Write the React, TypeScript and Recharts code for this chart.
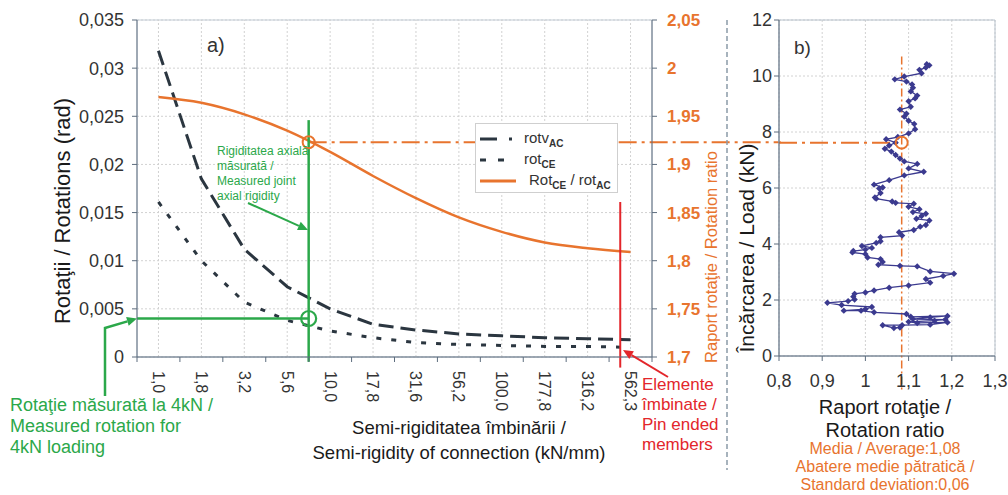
import React from 'react';
import {
  ComposedChart, Line, XAxis, YAxis, CartesianGrid, ReferenceLine, ReferenceDot,
  ReferenceArea, Legend, ScatterChart, Scatter,
} from 'recharts';

const FONT = '"Liberation Sans", Arial, Helvetica, sans-serif';
const ORANGE = '#E8742E';
const GREEN = '#2BA84A';
const RED = '#E3262B';
const SLATE = '#5d6d7e';
const DARK = '#2b3640';
const BLUE = '#3B3A8F';
const GRID = '#d2d2d2';

// ---- panel a data ----
const stiffnessLabels = ['1,0', '1,8', '3,2', '5,6', '10,0', '17,8', '31,6', '56,2', '100,0', '177,8', '316,2', '562,3'];
const rotvAC = [0.0318, 0.0185, 0.0112, 0.0073, 0.0050, 0.0034, 0.0028, 0.0024, 0.0022, 0.0020, 0.0019, 0.0018];
const rotCE = [0.0161, 0.0100, 0.0057, 0.0038, 0.0027, 0.0020, 0.0015, 0.0013, 0.0012, 0.0011, 0.0011, 0.0010];
const ratioCEAC = [1.970, 1.964, 1.952, 1.935, 1.913, 1.888, 1.865, 1.845, 1.830, 1.819, 1.813, 1.809];
const leftTicks = [0, 0.005, 0.01, 0.015, 0.02, 0.025, 0.03, 0.035];
const rightTicks = [1.7, 1.75, 1.8, 1.85, 1.9, 1.95, 2, 2.05];
const bandTicks = [0, 1, 2, 3, 4, 5, 6, 7, 8, 9, 10, 11, 12];

// annotation values
const measuredStiffnessPos = 4;
const measuredRatio = 1.923;
const measuredRotation = 0.004;
const pinnedPos = 11.26;

// ---- panel b data ----
const ratioB = [
  1.080, 1.066, 1.040, 1.085, 1.150, 1.190, 1.120, 1.100, 1.160, 1.185, 1.110, 1.150, 1.190, 1.105, 1.095,
  1.020, 0.990, 0.950, 1.000, 1.015, 0.945, 0.912, 0.960, 0.975, 0.972, 0.975, 1.000, 1.020, 1.055, 1.100,
  1.150, 1.140, 1.180, 1.205, 1.150, 1.120, 1.080, 1.030, 1.040, 1.035, 1.005, 1.000, 0.970, 0.972, 1.000,
  1.015, 0.992, 1.025, 1.035, 1.035, 1.085, 1.078, 1.112, 1.127, 1.140, 1.148, 1.118, 1.130, 1.140, 1.110,
  1.125, 1.100, 1.112, 1.070, 1.062, 1.025, 1.022, 1.035, 1.032, 1.040, 1.020, 1.055, 1.090, 1.135, 1.100,
  1.120, 1.090, 1.080, 1.070, 1.060, 1.045, 1.055, 1.070, 1.048, 1.075, 1.100, 1.115, 1.113, 1.100, 1.090,
  1.095, 1.080, 1.105, 1.100, 1.115, 1.120, 1.105, 1.110, 1.108, 1.095, 1.068, 1.090, 1.130, 1.125, 1.140,
  1.148, 1.142,
];
const loadB = [
  1.02, 1.00, 1.10, 1.10, 1.12, 1.20, 1.18, 1.22, 1.26, 1.30, 1.32, 1.38, 1.43, 1.40, 1.50,
  1.56, 1.62, 1.62, 1.67, 1.75, 1.82, 1.90, 1.96, 2.02, 2.12, 2.22, 2.27, 2.34, 2.44, 2.52,
  2.62, 2.75, 2.86, 2.94, 3.02, 3.20, 3.22, 3.26, 3.36, 3.46, 3.52, 3.64, 3.70, 3.75, 3.80,
  3.86, 3.93, 4.04, 4.10, 4.24, 4.30, 4.42, 4.50, 4.62, 4.68, 4.84, 4.90, 5.00, 5.08, 5.14,
  5.24, 5.33, 5.44, 5.47, 5.52, 5.62, 5.66, 5.82, 5.98, 6.02, 6.12, 6.28, 6.45, 6.58, 6.70,
  6.86, 6.95, 7.05, 7.18, 7.30, 7.40, 7.52, 7.62, 7.74, 7.82, 7.95, 8.10, 8.29, 8.40, 8.55,
  8.65, 8.80, 8.90, 9.10, 9.20, 9.30, 9.45, 9.58, 9.70, 9.80, 9.88, 9.98, 10.10, 10.22, 10.30,
  10.38, 10.42,
];
const loadTicks = [0, 2, 4, 6, 8, 10, 12];
const ratioTicks = [0.8, 0.9, 1, 1.1, 1.2, 1.3];
const ratioTickLabels = ['0,8', '0,9', '1', '1,1', '1,2', '1,3'];
const averageRatio = 1.084;
const averageLoad = 7.62;

// ---- layout constants ----
const H = 495;
const LEFT_W = 800;
const PLOT_L = 137;
const PLOT_R = 652;
const PLOT_T = 20;
const PLOT_B = 357;
const RIGHT_AXIS_W = 60;
const X_AXIS_H = 40;
const HALF_BAND = (PLOT_R - PLOT_L) / stiffnessLabels.length / 2;

const B_LEFT = 730;
const B_W = 278;

const comma = (v: number) => String(+v.toFixed(4)).replace('.', ',');

const seriesMeta = [
  { key: 'rotv', base: 'rotv', sub: 'AC', mid: '', sub2: '', color: DARK, dash: '17 12 3 100', width: 3 },
  { key: 'rotce', base: 'rot', sub: 'CE', mid: '', sub2: '', color: DARK, dash: '6 12 6 100', width: 3 },
  { key: 'ratio', base: 'Rot', sub: 'CE', mid: ' / rot', sub2: 'AC', color: ORANGE, dash: '', width: 3 },
];

const XTick = (props: any) => {
  const { x, y, payload } = props;
  const idx = payload?.value;
  const label = stiffnessLabels[idx];
  if (label === undefined) return <g />;
  return (
    <text
      transform={`translate(${x + HALF_BAND},${y + 7}) rotate(90)`}
      textAnchor="start"
      dy="0.35em"
      fontSize={16}
      fill="#333"
      fontFamily={FONT}
    >
      {label}
    </text>
  );
};

const LegendBox = (props: any) => {
  const payload: any[] = props.payload || [];
  const colorOf = (k: string, fallback: string) => {
    const it = payload.find((p) => p.dataKey === k);
    return it?.color || fallback;
  };
  return (
    <div
      style={{
        width: 143, height: 70, boxSizing: 'border-box', border: '1px solid #cfcfcf',
        background: '#fff', paddingTop: 4, fontFamily: FONT,
      }}
    >
      {seriesMeta.map((m) => (
        <div key={m.key} style={{ display: 'flex', alignItems: 'center', height: 21 }}>
          <svg width={46} height={20} style={{ flex: 'none' }}>
            <line
              x1={4} x2={40} y1={10} y2={10}
              stroke={colorOf(m.key, m.color)}
              strokeWidth={m.width}
              strokeDasharray={m.dash || undefined}
            />
          </svg>
          <span style={{ fontSize: 15, color: '#333', marginLeft: m.key === 'ratio' ? 7 : 2, whiteSpace: 'nowrap' }}>
            {m.base}
            <sub style={{ fontSize: 10, fontWeight: 700 }}>{m.sub}</sub>
            {m.mid}
            {m.sub2 ? <sub style={{ fontSize: 10, fontWeight: 700 }}>{m.sub2}</sub> : null}
          </span>
        </div>
      ))}
    </div>
  );
};

const Diamond = (p: any) => {
  const { cx, cy } = p;
  if (cx == null || cy == null) return <g />;
  const s = 3.2;
  return <polygon points={`${cx},${cy - s} ${cx + s},${cy} ${cx},${cy + s} ${cx - s},${cy}`} fill={BLUE} />;
};

const Arrow = ({ pts, color, w = 2.5, head = 9 }: { pts: number[][]; color: string; w?: number; head?: number }) => {
  const [x2, y2] = pts[pts.length - 1];
  const [x1, y1] = pts[pts.length - 2];
  const ang = Math.atan2(y2 - y1, x2 - x1);
  const bx = x2 - head * Math.cos(ang);
  const by = y2 - head * Math.sin(ang);
  const hw = head * 0.45;
  const p1 = [bx + hw * Math.sin(ang), by - hw * Math.cos(ang)];
  const p2 = [bx - hw * Math.sin(ang), by + hw * Math.cos(ang)];
  const linePts = [...pts.slice(0, -1), [bx, by]];
  return (
    <g>
      <polyline points={linePts.map((p) => p.join(',')).join(' ')} fill="none" stroke={color} strokeWidth={w} />
      <polygon points={`${x2},${y2} ${p1.join(',')} ${p2.join(',')}`} fill={color} />
    </g>
  );
};

export default function App() {
  const leftData = stiffnessLabels.map((c, i) => ({
    pos: i + 0.5,
    cat: c,
    rotv: rotvAC[i],
    rotce: rotCE[i],
    ratio: ratioCEAC[i],
  }));
  const bData = loadB.map((l, i) => ({ r: ratioB[i], load: l }));

  return (
    <div
      style={{
        position: 'absolute', left: 0, top: 0, width: 1008, height: H, background: '#fff',
        overflow: 'hidden', fontFamily: FONT,
      }}
    >
      <div style={{ position: 'absolute', left: 0, top: 0 }}>
        <ComposedChart
          width={LEFT_W}
          height={H}
          data={leftData}
          margin={{ top: PLOT_T, left: 0, right: LEFT_W - PLOT_R - RIGHT_AXIS_W, bottom: H - PLOT_B - X_AXIS_H }}
        >
          <CartesianGrid yAxisId="left" vertical={false} stroke={GRID} strokeDasharray="2 2" />
          {leftData.map((d) => (
            <ReferenceLine key={d.cat} x={d.pos} yAxisId="left" stroke={GRID} strokeDasharray="2 2" />
          ))}
          <ReferenceArea yAxisId="left" x1={0} x2={12} y1={0} y2={0.035} fill="none" stroke="#c3ccd5" />
          <XAxis
            type="number"
            dataKey="pos"
            domain={[0, 12]}
            ticks={bandTicks}
            interval={0}
            height={X_AXIS_H}
            stroke={SLATE}
            tickLine={{ stroke: SLATE }}
            tickSize={5}
            tick={<XTick />}
            allowDecimals
          />
          <YAxis
            yAxisId="left"
            domain={[0, 0.035]}
            ticks={leftTicks}
            width={PLOT_L}
            stroke={SLATE}
            tickSize={5}
            tickMargin={8}
            tickFormatter={comma}
            tick={{ fontSize: 18, fill: '#333', fontFamily: FONT }}
            interval={0}
          />
          <YAxis
            yAxisId="right"
            orientation="right"
            domain={[1.7, 2.05]}
            ticks={rightTicks}
            width={RIGHT_AXIS_W}
            stroke={SLATE}
            tickSize={5}
            tickMargin={10}
            tickFormatter={comma}
            tick={{ fontSize: 17, fill: ORANGE, fontWeight: 700, fontFamily: FONT }}
            interval={0}
          />
          <Line
            yAxisId="left" dataKey="rotv" name="rotvAC" type="linear" stroke={DARK}
            strokeWidth={3} strokeDasharray="15 7" dot={false} isAnimationActive={false}
          />
          <Line
            yAxisId="left" dataKey="rotce" name="rotCE" type="linear" stroke={DARK}
            strokeWidth={3} strokeDasharray="5 10" dot={false} isAnimationActive={false}
          />
          <Line
            yAxisId="right" dataKey="ratio" name="RotCE / rotAC" type="monotone" stroke={ORANGE}
            strokeWidth={2.5} dot={false} isAnimationActive={false}
          />
          <ReferenceLine
            yAxisId="right"
            segment={[{ x: measuredStiffnessPos, y: measuredRatio }, { x: 15, y: measuredRatio }]}
            ifOverflow="visible"
            stroke={ORANGE}
            strokeWidth={2}
            strokeDasharray="18 5 3 5"
          />
          <ReferenceLine
            yAxisId="left"
            segment={[{ x: measuredStiffnessPos, y: 0.0246 }, { x: measuredStiffnessPos, y: -0.0005 }]}
            ifOverflow="visible"
            stroke={GREEN}
            strokeWidth={2.5}
          />
          <ReferenceLine
            yAxisId="left"
            segment={[{ x: 0, y: measuredRotation }, { x: measuredStiffnessPos, y: measuredRotation }]}
            ifOverflow="visible"
            stroke={GREEN}
            strokeWidth={2.5}
          />
          <ReferenceLine
            yAxisId="left"
            segment={[{ x: pinnedPos, y: 0.0161 }, { x: pinnedPos, y: -0.0011 }]}
            ifOverflow="visible"
            stroke={RED}
            strokeWidth={2}
          />
          <ReferenceDot
            yAxisId="right" x={measuredStiffnessPos} y={measuredRatio} r={6}
            fill="none" stroke={ORANGE} strokeWidth={2} ifOverflow="visible"
          />
          <ReferenceDot
            yAxisId="left" x={measuredStiffnessPos} y={measuredRotation} r={7.5}
            fill="none" stroke={GREEN} strokeWidth={2.2} ifOverflow="visible"
          />
          <Legend
            layout="vertical"
            align="center"
            verticalAlign="middle"
            wrapperStyle={{ left: 475, top: 123, width: 143, height: 70 }}
            content={<LegendBox />}
          />
        </ComposedChart>
      </div>

      <div style={{ position: 'absolute', left: B_LEFT, top: 0 }}>
        <ScatterChart
          width={B_W}
          height={H}
          margin={{ top: PLOT_T, left: 0, right: B_LEFT + B_W - 995, bottom: H - 356 - 30 }}
        >
          <CartesianGrid stroke={GRID} strokeDasharray="2 2" />
          <ReferenceArea x1={0.8} x2={1.3} y1={0} y2={12} fill="none" stroke="#b8c2cc" />
          <XAxis
            type="number"
            dataKey="r"
            domain={[0.8, 1.3]}
            ticks={ratioTicks}
            interval={0}
            height={30}
            stroke={SLATE}
            tickSize={5}
            tickMargin={13}
            tickFormatter={(v: number) => ratioTickLabels[ratioTicks.indexOf(v)] ?? comma(v)}
            tick={{ fontSize: 18, fill: '#333', fontFamily: FONT }}
          />
          <YAxis
            type="number"
            dataKey="load"
            domain={[0, 12]}
            ticks={loadTicks}
            interval={0}
            width={49}
            stroke={SLATE}
            tickSize={5}
            tickMargin={2}
            tick={{ fontSize: 18, fill: '#333', fontFamily: FONT }}
          />
          <ReferenceLine
            segment={[{ x: averageRatio, y: 10.7 }, { x: averageRatio, y: -1.3 }]}
            ifOverflow="visible"
            stroke={ORANGE}
            strokeWidth={1.5}
            strokeDasharray="8 3 2 3"
          />
          <Scatter
            data={bData}
            line={{ stroke: BLUE, strokeWidth: 1.3 }}
            lineType="joint"
            shape={<Diamond />}
            fill={BLUE}
            isAnimationActive={false}
          />
          <ReferenceLine
            segment={[{ x: 0.8, y: averageLoad }, { x: averageRatio, y: averageLoad }]}
            ifOverflow="visible"
            stroke={ORANGE}
            strokeWidth={2}
            strokeDasharray="18 5 3 5"
          />
          <ReferenceDot
            x={averageRatio} y={averageLoad} r={6} fill="#fff" fillOpacity={0}
            stroke={ORANGE} strokeWidth={2} ifOverflow="visible"
          />
        </ScatterChart>
      </div>

      <svg
        width={1008}
        height={H}
        style={{ position: 'absolute', left: 0, top: 0, pointerEvents: 'none' }}
        fontFamily={FONT}
      >
        {/* separator */}
        <line x1={727} x2={727} y1={20} y2={470} stroke="#8a9aa8" strokeWidth={1.5} strokeDasharray="5 3" />

        {/* panel labels */}
        <text x={207} y={52} fontSize={20} fill="#333">a)</text>
        <text x={794} y={54} fontSize={19} fill="#333">b)</text>

        {/* axis titles */}
        <text transform="translate(62,211) rotate(-90)" textAnchor="middle" dominantBaseline="central" fontSize={22} fill="#1a1a1a">
          Rotaţii / Rotations (rad)
        </text>
        <text transform="translate(711,257) rotate(-90)" textAnchor="middle" dominantBaseline="central" fontSize={16.5} fill={ORANGE}>
          Raport rotaţie / Rotation ratio
        </text>
        <text transform="translate(746,248) rotate(-90)" textAnchor="middle" dominantBaseline="central" fontSize={21} fill="#1a1a1a">
          Încărcarea / Load (kN)
        </text>
        <text x={459} y={434} textAnchor="middle" fontSize={18.5} fill="#1a1a1a">Semi-rigiditatea îmbinării /</text>
        <text x={459} y={459} textAnchor="middle" fontSize={18.5} fill="#1a1a1a">Semi-rigidity of connection (kN/mm)</text>

        <text x={885} y={414} textAnchor="middle" fontSize={20} fill="#1a1a1a">Raport rotaţie /</text>
        <text x={885} y={437} textAnchor="middle" fontSize={20} fill="#1a1a1a">Rotation ratio</text>
        <text x={885} y={454} textAnchor="middle" fontSize={16} fill={ORANGE}>Media / Average:1,08</text>
        <text x={885} y={472} textAnchor="middle" fontSize={16} fill={ORANGE}>Abatere medie pătratică /</text>
        <text x={885} y={490} textAnchor="middle" fontSize={16} fill={ORANGE}>Standard deviation:0,06</text>

        {/* green annotations */}
        <text x={217} y={155} fontSize={12} fill={GREEN}>Rigiditatea axială</text>
        <text x={217} y={170} fontSize={12} fill={GREEN}>măsurată /</text>
        <text x={217} y={185} fontSize={12} fill={GREEN}>Measured joint</text>
        <text x={217} y={200} fontSize={12} fill={GREEN}>axial rigidity</text>
        <Arrow pts={[[248, 203], [308, 230]]} color={GREEN} w={2} head={10} />

        <text x={10} y={411} fontSize={18} fill={GREEN}>Rotaţie măsurată la 4kN /</text>
        <text x={10} y={432} fontSize={18} fill={GREEN}>Measured rotation for</text>
        <text x={10} y={453} fontSize={18} fill={GREEN}>4kN loading</text>
        <Arrow pts={[[105, 396], [105, 328], [137, 318.5]]} color={GREEN} w={2.5} head={10} />

        {/* red annotation */}
        <text x={642} y={390} fontSize={17} fill={RED}>Elemente</text>
        <text x={642} y={410} fontSize={17} fill={RED}>îmbinate /</text>
        <text x={642} y={430} fontSize={17} fill={RED}>Pin ended</text>
        <text x={642} y={450} fontSize={17} fill={RED}>members</text>
        <Arrow pts={[[668, 377], [623, 350]]} color={RED} w={2} head={10} />
      </svg>
    </div>
  );
}
